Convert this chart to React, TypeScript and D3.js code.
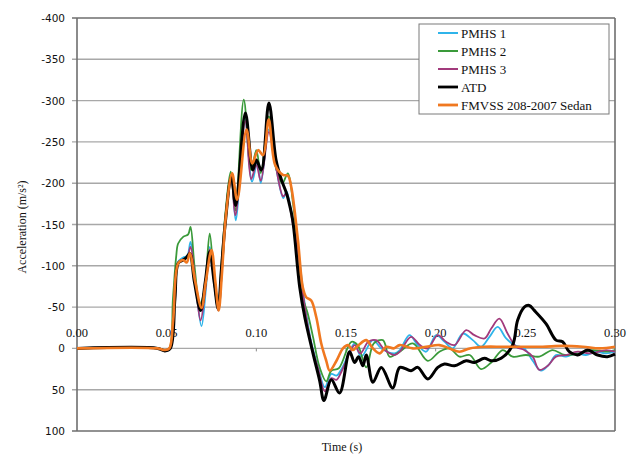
import React from "react";
import * as d3 from "d3";

// ---- Data (time in s, acceleration in m/s²) ----
const seriesNames = ["PMHS 1", "PMHS 2", "PMHS 3", "ATD", "FMVSS 208-2007 Sedan"];

const pmhs1T = [0, 0.045, 0.049, 0.052, 0.0546, 0.0564, 0.0592, 0.0615, 0.0633, 0.066, 0.0694, 0.0718, 0.074, 0.0765, 0.0787, 0.0805, 0.0826, 0.0861, 0.0885, 0.0936, 0.0976, 0.1005, 0.1025, 0.107, 0.1105, 0.115, 0.1168, 0.1204, 0.1224, 0.127, 0.1308, 0.1345, 0.1382, 0.1418, 0.1447, 0.1475, 0.152, 0.1548, 0.1585, 0.165, 0.1697, 0.1771, 0.18, 0.1854, 0.19, 0.1947, 0.2003, 0.205, 0.2095, 0.2151, 0.2207, 0.2253, 0.23, 0.2346, 0.2393, 0.2439, 0.2494, 0.2541, 0.2587, 0.2634, 0.2671, 0.2727, 0.2783, 0.2838, 0.2894, 0.295, 0.3];
const pmhs1V = [0, 0, 3, 0, -70, -105, -110, -112, -129, -80, -27, -70, -123, -80, -46, -95, -150, -209, -155, -280, -202, -225, -200, -265, -225, -182, -190, -155, -135, -54, -6, 23, 47, 31, 33, 25, 4, -6, 10, -10, 0, 6, 2, -16, -4, 4, -16, -8, 0, -18, -10, -2, -14, -26, -12, -4, 0, 15, 27, 19, 8, 10, 6, 8, 4, 6, 4];

const pmhs2T = [0, 0.045, 0.049, 0.0515, 0.0535, 0.0553, 0.0564, 0.0592, 0.062, 0.0633, 0.0655, 0.0685, 0.071, 0.074, 0.0765, 0.0787, 0.0805, 0.0826, 0.0857, 0.0883, 0.093, 0.0971, 0.1, 0.1025, 0.107, 0.1105, 0.1145, 0.1176, 0.1205, 0.1232, 0.1259, 0.1287, 0.1316, 0.1353, 0.139, 0.1418, 0.146, 0.153, 0.1565, 0.1613, 0.1655, 0.1706, 0.1743, 0.18, 0.1873, 0.1956, 0.2021, 0.2077, 0.2133, 0.219, 0.2253, 0.231, 0.2374, 0.2429, 0.2503, 0.2578, 0.2652, 0.272, 0.28, 0.2875, 0.295, 0.3];
const pmhs2V = [0, 0, 2, 0, -60, -111, -127, -135, -138, -147, -100, -54, -70, -139, -80, -50, -100, -160, -214, -167, -301, -216, -240, -212, -281, -222, -200, -212, -175, -120, -62, -42, -14, 23, 40, 27, 24, -8, -4, 23, -6, -10, 10, 4, -6, 15, 4, 0, 10, 8, 25, 17, 2, 10, 8, 10, 2, 8, 6, 2, 4, 2];

const pmhs3T = [0, 0.045, 0.049, 0.052, 0.0546, 0.0564, 0.0592, 0.0615, 0.0633, 0.066, 0.0689, 0.0715, 0.074, 0.0765, 0.0787, 0.0805, 0.0826, 0.0861, 0.0883, 0.0939, 0.0971, 0.1, 0.1025, 0.107, 0.1105, 0.115, 0.1168, 0.1204, 0.1224, 0.127, 0.1308, 0.1345, 0.1382, 0.1418, 0.1447, 0.1475, 0.152, 0.1548, 0.158, 0.1624, 0.1668, 0.1716, 0.1771, 0.18, 0.1863, 0.1912, 0.1956, 0.2012, 0.2058, 0.2105, 0.217, 0.2216, 0.2272, 0.231, 0.2355, 0.2401, 0.2448, 0.2494, 0.2541, 0.2578, 0.2625, 0.2671, 0.2727, 0.2792, 0.2866, 0.295, 0.3];
const pmhs3V = [0, 0, 3, 0, -70, -103, -108, -110, -123, -80, -34, -70, -120, -80, -46, -95, -150, -205, -161, -275, -205, -222, -203, -262, -225, -184, -188, -150, -130, -50, -4, 25, 52, 36, 38, 28, 6, -4, 6, -8, -10, 2, 8, 4, -14, -4, 0, -16, -8, -4, -22, -16, -12, -24, -36, -18, -2, 2, 10, 26, 21, 10, 8, 4, 6, 2, 4];

const atdT = [0, 0.045, 0.049, 0.052, 0.0546, 0.0564, 0.0592, 0.061, 0.0629, 0.0655, 0.0689, 0.0715, 0.074, 0.0765, 0.0787, 0.0805, 0.0826, 0.0861, 0.0885, 0.0939, 0.098, 0.1, 0.1028, 0.107, 0.111, 0.114, 0.1168, 0.1186, 0.1203, 0.1242, 0.127, 0.1316, 0.1353, 0.1377, 0.1418, 0.1464, 0.152, 0.1548, 0.157, 0.1594, 0.1613, 0.165, 0.1697, 0.1761, 0.18, 0.1863, 0.19, 0.1956, 0.2012, 0.2049, 0.2105, 0.217, 0.2216, 0.2272, 0.231, 0.2365, 0.2429, 0.2457, 0.2494, 0.2522, 0.255, 0.2615, 0.2671, 0.2708, 0.2745, 0.2792, 0.2847, 0.2903, 0.2958, 0.3];
const atdV = [0, 0, 3, 0, -60, -103, -107, -110, -115, -80, -46, -80, -117, -80, -48, -95, -150, -208, -173, -285, -216, -228, -216, -297, -228, -204, -188, -173, -155, -74, -38, 6, 39, 63, 38, 54, 4, 17, 10, 21, 8, 41, 23, 48, 23, 27, 23, 37, 23, 19, 21, 15, 17, 12, 15, 12, -4, -34, -50, -52, -46, -30, -10, -8, 4, 8, 2, 8, 10, 7];

const fmvssT = [0, 0.045, 0.049, 0.0515, 0.0536, 0.0564, 0.0592, 0.0612, 0.0629, 0.066, 0.0694, 0.0718, 0.075, 0.0772, 0.079, 0.0808, 0.083, 0.0865, 0.0893, 0.0945, 0.0978, 0.101, 0.1038, 0.1069, 0.1105, 0.1148, 0.1176, 0.1195, 0.1232, 0.1259, 0.1278, 0.1306, 0.1334, 0.1362, 0.139, 0.1409, 0.1447, 0.1483, 0.1511, 0.1538, 0.157, 0.1613, 0.165, 0.1687, 0.1725, 0.1766, 0.18, 0.1873, 0.1947, 0.2021, 0.2077, 0.2133, 0.219, 0.2272, 0.2374, 0.2485, 0.2597, 0.2708, 0.282, 0.2915, 0.3];
const fmvssV = [0, 0, 2, 0, -34, -103, -107, -104, -115, -80, -49, -80, -119, -80, -46, -90, -160, -212, -180, -265, -224, -240, -234, -277, -222, -210, -209, -195, -131, -74, -62, -58, -38, -6, 15, 27, 15, 0, -4, 2, -4, -10, 0, 6, -2, 0, -4, 0, -2, -4, 0, 4, 0, -2, -2, -2, -2, -3, -2, 0, -2];

const seriesT = [pmhs1T, pmhs2T, pmhs3T, atdT, fmvssT];
const seriesV = [pmhs1V, pmhs2V, pmhs3V, atdV, fmvssV];
const seriesColors = ["#2fb4ea", "#3a9a3a", "#a23a7c", "#000000", "#f07820"];
const seriesWidths = [1.8, 1.8, 1.8, 3, 2.6];

const yTicks = [-400, -350, -300, -250, -200, -150, -100, -50, 0, 50, 100];
const xTicks = [0, 0.05, 0.1, 0.15, 0.2, 0.25, 0.3];

export default function App() {
  const W = 635;
  const H = 454;
  const x = d3.scaleLinear().domain([0, 0.3]).range([77, 615]);
  const y = d3.scaleLinear().domain([-400, 100]).range([18, 431]);
  const line = d3
    .line<[number, number]>()
    .x((d) => x(d[0]))
    .y((d) => y(d[1]))
    .curve(d3.curveCatmullRom.alpha(0.5));

  const serif = "'Liberation Serif', 'Times New Roman', serif";
  const sans = "'DejaVu Sans', Verdana, sans-serif";

  return (
    <svg
      width={W}
      height={H}
      style={{ position: "absolute", left: 0, top: 0, background: "#fff" }}
    >
      <rect x={0} y={0} width={W} height={H} fill="#fff" />
      {/* gridlines */}
      {yTicks.map((t) => (
        <line
          key={"g" + t}
          x1={72}
          x2={615}
          y1={y(t)}
          y2={y(t)}
          stroke={t === -400 || t === 100 ? "#6e6e6e" : "#a8a8a8"}
          strokeWidth={1.4}
        />
      ))}
      {/* plot border */}
      <line x1={x(0)} x2={x(0)} y1={y(-400)} y2={y(100)} stroke="#6e6e6e" strokeWidth={1.6} />
      <line x1={x(0.3)} x2={x(0.3)} y1={y(-400)} y2={y(100)} stroke="#6e6e6e" strokeWidth={1.6} />
      {/* x axis ticks at y=0 */}
      {xTicks.map((t) => (
        <line key={"xt" + t} x1={x(t)} x2={x(t)} y1={y(0)} y2={y(0) + 3} stroke="#888" strokeWidth={1} />
      ))}
      {/* y tick labels */}
      {yTicks.map((t) => (
        <text
          key={"yl" + t}
          x={65}
          y={y(t) + 4}
          textAnchor="end"
          fontFamily={sans}
          fontSize={10.5}
          fill="#111"
        >
          {t}
        </text>
      ))}
      {/* x tick labels */}
      {xTicks.map((t) => (
        <text
          key={"xl" + t}
          x={x(t)}
          y={337}
          textAnchor="middle"
          fontFamily={serif}
          fontSize={12.5}
          fill="#111"
        >
          {t.toFixed(2)}
        </text>
      ))}
      {/* series */}
      {seriesT.map((ts, i) => {
        const pts: [number, number][] = ts.map((t, j) => [t, seriesV[i][j]]);
        return (
          <path
            key={"s" + i}
            d={line(pts) || ""}
            fill="none"
            stroke={seriesColors[i]}
            strokeWidth={seriesWidths[i]}
            strokeLinejoin="round"
          />
        );
      })}
      {/* axis titles */}
      <text
        transform="translate(26,227) rotate(-90)"
        textAnchor="middle"
        fontFamily={serif}
        fontSize={12}
        fill="#111"
      >
        Acceleration (m/s²)
      </text>
      <text x={342} y={451} textAnchor="middle" fontFamily={serif} fontSize={12} fill="#111">
        Time (s)
      </text>
      {/* legend */}
      <rect x={419} y={24} width={190} height={90} fill="#fff" stroke="#7a7a7a" strokeWidth={1} />
      {seriesNames.map((n, i) => {
        const ly = 33 + i * 18;
        return (
          <g key={"lg" + i}>
            <line
              x1={438}
              x2={458}
              y1={ly}
              y2={ly}
              stroke={seriesColors[i]}
              strokeWidth={i >= 3 ? 2.8 : 2}
            />
            <text x={461} y={ly + 4.5} fontFamily={serif} fontSize={13} fill="#111">
              {n}
            </text>
          </g>
        );
      })}
    </svg>
  );
}
